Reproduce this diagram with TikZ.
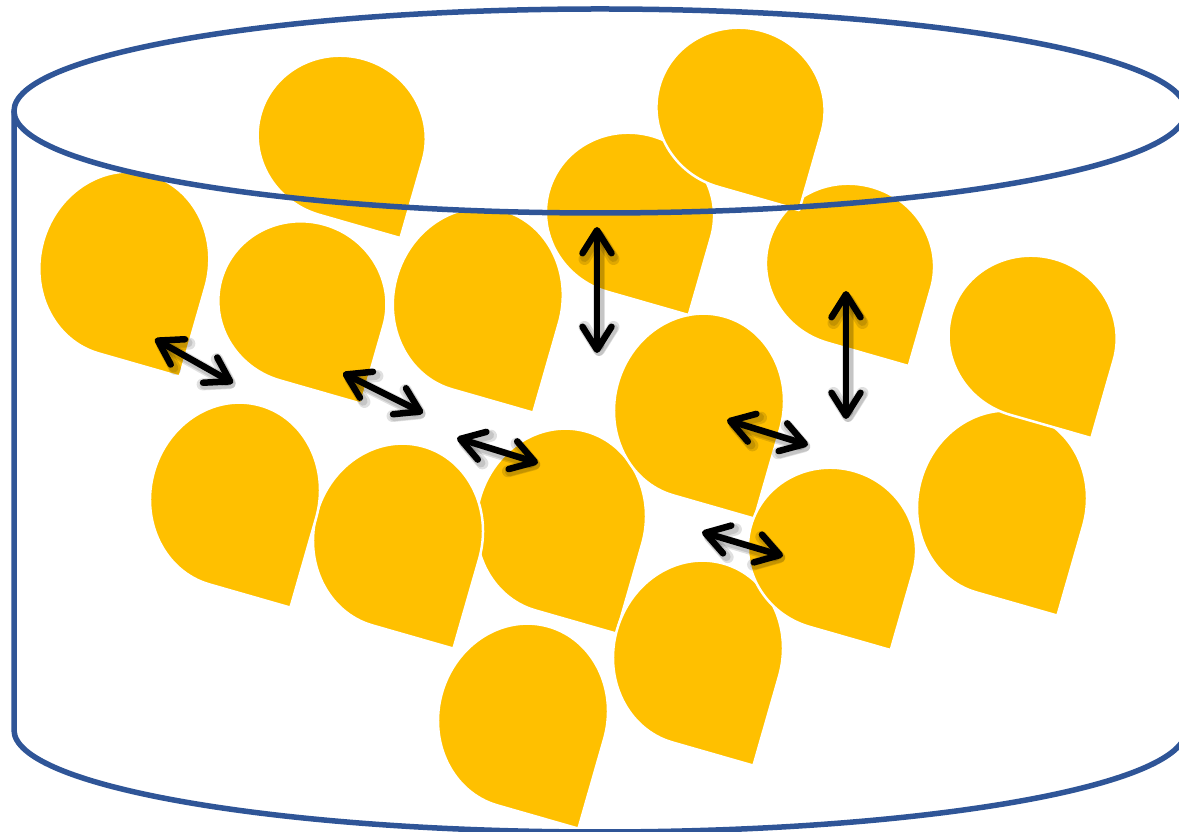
\documentclass[tikz,border=0pt]{standalone}
\usetikzlibrary{arrows.meta}
\definecolor{grainyellow}{HTML}{FFC000}
\definecolor{vesselblue}{HTML}{2F5597}
\begin{document}
\begin{tikzpicture}[x=1pt,y=1pt,
  grain/.style={fill=grainyellow, draw=white, line width=2.5pt, line join=round},
  % teardrop grain: elliptical body, pointed corner at lower right
  pics/particle/.style={code={%
    \path[grain] (0,-#1) -- (84.3,-#1) -- (84.3,0)
      arc[start angle=0, end angle=270, x radius=84.3, y radius=#1] -- cycle;}},
  vessel/.style={draw=vesselblue, line width=5.5pt},
  barb/.tip={Straight Barb[length=23pt, width=29pt, round]},
  gap/.style={draw=black, line width=6.5pt, line cap=round, barb-barb},
  gapshadow/.style={draw=black, opacity=0.12, line width=#1, line cap=round, barb-barb},
]
\useasboundingbox (0,0) rectangle (1179,832);
\clip (0,0) rectangle (1179,832);

% grains, back to front
\pic (g1)  [rotate=-16] at (341.7,695)  {particle=81};
\pic (g2)  [rotate=-16] at (124.3,568)  {particle=93};
\pic (g3)  [rotate=-16] at (302.4,529.4){particle=81};
\pic (g4)  [rotate=-16] at (477.8,532)  {particle=93};
\pic (g12) [rotate=-16] at (561,311)    {particle=93};
\pic (g11) [rotate=-16] at (398,296)    {particle=93};
\pic (g10) [rotate=-16] at (235,337)    {particle=93};
\pic (g9)  [rotate=-16] at (699,426)    {particle=93};
\pic (g5)  [rotate=-16] at (630,618)    {particle=81};
\pic (g7)  [rotate=-16] at (850,567)    {particle=81};
\pic (g6)  [rotate=-16] at (740.5,723)  {particle=81};
\pic (g14) [rotate=-16] at (1002,329)   {particle=93};
\pic (g8)  [rotate=-16] at (1032.6,495) {particle=81};
\pic (g16) [rotate=-16] at (523,116)    {particle=93};
\pic (g15) [rotate=-16] at (698,179)    {particle=93};
\pic (g13) [rotate=-16] at (832,283)    {particle=81};

% end points of the double arrows
\coordinate (a1s) at (155,493);  \coordinate (a1e) at (233,449);
\coordinate (a2s) at (343,459);  \coordinate (a2e) at (423,419);
\coordinate (a3s) at (457,394);  \coordinate (a3e) at (538,369);
\coordinate (a4s) at (597,605);  \coordinate (a4e) at (597,479);
\coordinate (a5s) at (846,541);  \coordinate (a5e) at (846,413);
\coordinate (a6s) at (727,412);  \coordinate (a6e) at (808,387);
\coordinate (a7s) at (702,300);  \coordinate (a7e) at (783,276);

% soft shadows, then the arrows
\foreach \s/\e in {a1s/a1e,a2s/a2e,a3s/a3e,a4s/a4e,a5s/a5e,a6s/a6e,a7s/a7e}{
  \begin{scope}[transform canvas={shift={(2pt,-3pt)}}]
    \draw[gapshadow=12pt] (\s) -- (\e);
    \draw[gapshadow=9pt] (\s) -- (\e);
  \end{scope}
}
\foreach \s/\e in {a1s/a1e,a2s/a2e,a3s/a3e,a4s/a4e,a5s/a5e,a6s/a6e,a7s/a7e}{
  \draw[gap] (\s) -- (\e);
}

% cylindrical vessel
\coordinate (topc) at (600,721);
\coordinate (botc) at (600,102);
\draw[vessel] (topc) ellipse[x radius=586, y radius=102];
\draw[vessel] (14,721) -- (14,102)
  arc[start angle=180, end angle=360, x radius=586, y radius=102]
  -- (1186,721);
\end{tikzpicture}
\end{document}
